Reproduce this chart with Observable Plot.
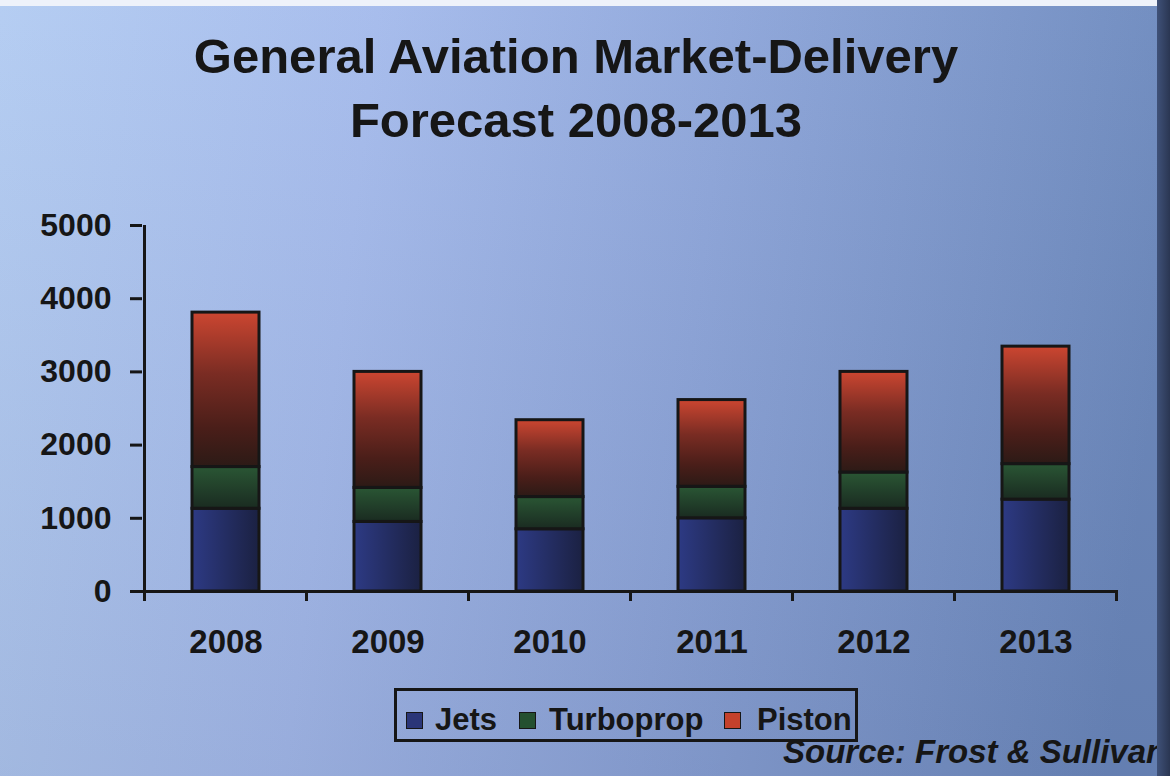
<!DOCTYPE html>
<html><head><meta charset="utf-8">
<script src="https://cdn.jsdelivr.net/npm/d3@7"></script>
<script src="https://cdn.jsdelivr.net/npm/@observablehq/plot@0.6"></script>
<style>
html,body{margin:0;padding:0;background:#fff;}
body{width:1170px;height:776px;overflow:hidden;}
#wrap{position:relative;width:1170px;height:776px;overflow:hidden;font-family:"Liberation Sans",Arial,Helvetica,sans-serif;color:#161616;
background:
 linear-gradient(180deg, rgba(255,255,255,0.03) 0%, rgba(0,0,30,0.08) 100%),
 linear-gradient(97deg,#b3ccf2 0%,#a5bbec 30%,#8ea6da 58%,#6c89bd 95%);}
#title{position:absolute;left:0;top:24px;width:1152px;text-align:center;font-weight:bold;font-size:49px;line-height:64px;}
#chart{position:absolute;left:0;top:195px;}
#legend{position:absolute;left:394px;top:688px;width:464px;height:54px;box-sizing:border-box;border:3px solid #161616;}
.sw{position:absolute;width:17px;height:17px;top:712px;box-sizing:border-box;border:1.5px solid #161616;}
.lt{position:absolute;top:704px;font-size:31px;line-height:31px;font-weight:bold;white-space:nowrap;}
#source{position:absolute;left:783px;top:735px;font-size:33px;line-height:33px;font-weight:bold;font-style:italic;white-space:nowrap;}
#topband{position:absolute;left:0;top:0;width:1170px;height:6px;background:#eef2fa;}
#rightband{position:absolute;right:0;top:0;width:13px;height:776px;background:linear-gradient(90deg,#3f5178,#2a3652);}
</style></head>
<body>
<div id="wrap">
 <div id="title">General Aviation Market-Delivery<br>Forecast 2008-2013</div>
 <div id="chart"></div>
 <div id="legend"></div>
 <div id="source">Source: Frost &amp; Sullivan</div>
 <div id="topband"></div>
 <div id="rightband"></div>
</div>
<script>
const years = ["2008", "2009", "2010", "2011", "2012", "2013"];
const series = ["Jets", "Turboprop", "Piston"];
const jets = [1130, 950, 850, 1000, 1130, 1255];
const turboprop = [570, 465, 440, 430, 495, 485];
const piston = [2110, 1585, 1050, 1185, 1375, 1605];
const yTicks = [0, 1000, 2000, 3000, 4000, 5000];
const seriesFills = ["url(#gJets)", "url(#gTurbo)", "url(#gPiston)"];
const swatchColors = ["#2b3678", "#245030", "#c4412c"];

const values = {Jets: jets, Turboprop: turboprop, Piston: piston};
const rows = years.flatMap((yr, i) => series.map(s => ({year: yr, type: s, value: values[s][i]})));

function defs() {
  const d = d3.create("svg:defs");
  const gp = d.append("linearGradient").attr("id", "gPiston").attr("x1", 0).attr("y1", 0).attr("x2", 0).attr("y2", 1);
  [["0%", "#cc4631"], ["40%", "#7a2c23"], ["75%", "#4a1e19"], ["100%", "#2c1a16"]].forEach(([o, c]) => gp.append("stop").attr("offset", o).attr("stop-color", c));
  const gt = d.append("linearGradient").attr("id", "gTurbo").attr("x1", 0).attr("y1", 0).attr("x2", 0).attr("y2", 1);
  [["0%", "#2a5634"], ["100%", "#1a2b21"]].forEach(([o, c]) => gt.append("stop").attr("offset", o).attr("stop-color", c));
  const gj = d.append("linearGradient").attr("id", "gJets").attr("x1", 0).attr("y1", 0).attr("x2", 1).attr("y2", 0);
  [["0%", "#2d3a84"], ["100%", "#1b2142"]].forEach(([o, c]) => gj.append("stop").attr("offset", o).attr("stop-color", c));
  return d.node();
}

function boundaryTicks(index, scales) {
  const x = scales.x, y = scales.y;
  const bw = x.bandwidth();
  const gap = x(years[1]) - x(years[0]) - bw;
  const xs = years.map(d => x(d) - gap / 2).concat([x(years[years.length - 1]) + bw + gap / 2]);
  const y0 = y(0);
  const g = d3.create("svg:g").attr("stroke", "#161616").attr("stroke-width", 3);
  xs.forEach(v => g.append("line").attr("x1", v).attr("x2", v).attr("y1", y0).attr("y2", y0 + 10));
  g.append("line").attr("x1", xs[0]).attr("x2", xs[0]).attr("y1", y(5000)).attr("y2", y0);
  return g.node();
}

const chart = Plot.plot({
  width: 1170, height: 490,
  marginTop: 30, marginBottom: 94, marginLeft: 142, marginRight: 52,
  style: {background: "transparent", color: "#161616", fontFamily: "'Liberation Sans', Arial, sans-serif", overflow: "visible"},
  x: {domain: years, paddingInner: 0.588, paddingOuter: 0.294, align: 0.5, label: null},
  y: {domain: [0, 5000], label: null},
  color: {domain: series, range: seriesFills},
  marks: [
    defs,
    Plot.barY(rows, {x: "year", y: "value", fill: "type", stroke: "#161616", strokeWidth: 3}),
    Plot.ruleY([0], {stroke: "#161616", strokeWidth: 3}),
    boundaryTicks,
    Plot.axisY(yTicks, {tickSize: 12, tickPadding: 19, fontSize: 32, fontWeight: "bold", strokeWidth: 3, label: null, tickFormat: d => String(d)}),
    Plot.axisX({tickSize: 0, tickPadding: 38, fontSize: 33, fontWeight: "bold", label: null})
  ]
});
document.getElementById("chart").appendChild(chart);

const wrap = document.getElementById("wrap");
const swX = [406, 519, 724];
const txX = [435, 549, 757];
series.forEach((s, i) => {
  const sw = document.createElement("div");
  sw.className = "sw"; sw.style.left = swX[i] + "px"; sw.style.background = swatchColors[i];
  wrap.insertBefore(sw, document.getElementById("source"));
  const t = document.createElement("div");
  t.className = "lt"; t.style.left = txX[i] + "px"; t.textContent = s;
  wrap.insertBefore(t, document.getElementById("source"));
});
</script>
</body></html>
